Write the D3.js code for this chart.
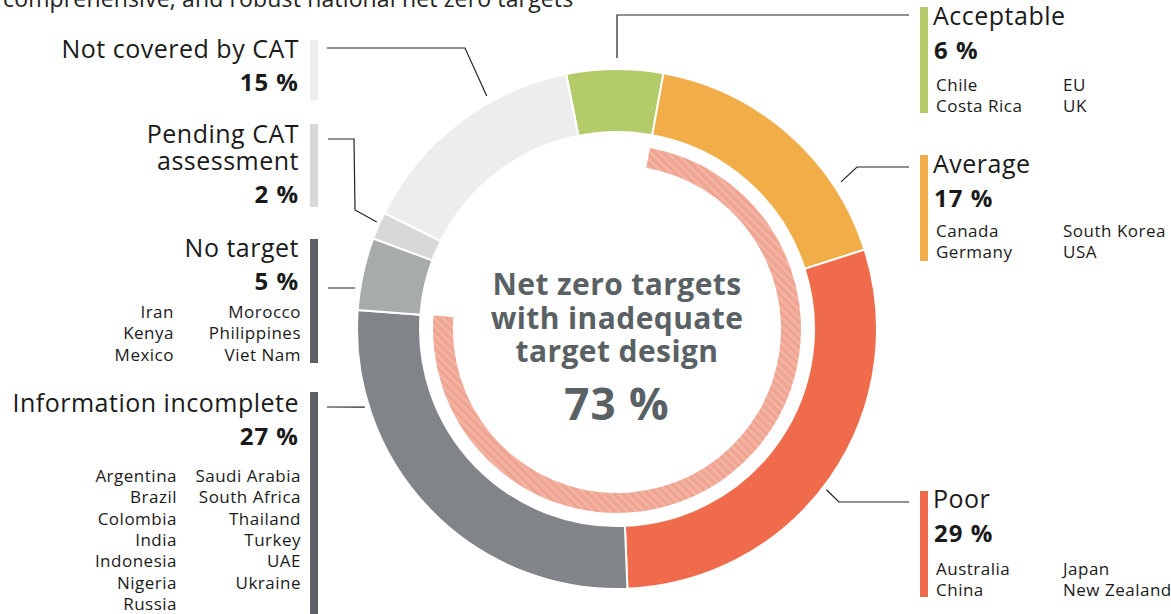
<!DOCTYPE html>
<html>
<head>
<meta charset="utf-8">
<script src="https://cdn.jsdelivr.net/npm/d3@7"></script>
<style>
  body { margin: 0; background: #fff; }
  svg text { font-family: "Open Sans", "Noto Sans", sans-serif; }
</style>
</head>
<body>
<div id="chart"></div>
<script>
// categories in clockwise order starting just left of 12 o'clock
var categories = ["Acceptable", "Average", "Poor", "Information incomplete",
                  "No target", "Pending CAT assessment", "Not covered by CAT"];
var shares = [6.0, 17.2, 29.3, 26.8, 4.5, 1.7, 14.5];   // share of targets, %
var shareLabels = ["6 %", "17 %", "29 %", "27 %", "5 %", "2 %", "15 %"];
var colors = ["#b3cb69", "#f0ad48", "#ef6b4c", "#818589", "#a8abac", "#d6d8d9", "#eceeed"];

// countries listed under each category (two columns)
var acceptableCountries = [["Chile", "Costa Rica"], ["EU", "UK"]];
var averageCountries = [["Canada", "Germany"], ["South Korea", "USA"]];
var poorCountries = [["Australia", "China"], ["Japan", "New Zealand"]];
var incompleteCountries = [["Argentina", "Brazil", "Colombia", "India", "Indonesia", "Nigeria", "Russia"],
                           ["Saudi Arabia", "South Africa", "Thailand", "Turkey", "UAE", "Ukraine"]];
var noTargetCountries = [["Iran", "Kenya", "Mexico"], ["Morocco", "Philippines", "Viet Nam"]];

// the inner ring groups these categories
var inadequateCategories = ["Average", "Poor", "Information incomplete"];
var inadequateTitle = ["Net zero targets", "with inadequate", "target design"];
var inadequateLabel = "73 %";

var subtitle = "comprehensive, and robust national net zero targets";

document.addEventListener("DOMContentLoaded", function() {
    var w = 1171, h = 614;
    var cx = 617, cy = 329;          // donut centre
    var rOuter = 260, rInner = 197;  // main ring
    var rIn2 = 184, rIn1 = 164;      // hatched ring
    var startAngle = -11.3 * Math.PI / 180;

    // text styles (Open Sans is narrower than the original face, so widen a bit)
    var titleSize = 25, titleSpacing = 0.5;
    var pctSize = 24, pctSpacing = 1;
    var countrySize = 17, countrySpacing = 0.5;

    var svg = d3.select("#chart").append("svg")
        .attr("width", w)
        .attr("height", h);

    // stripe pattern for the inner ring
    var defs = svg.append("defs");
    var pat = defs.append("pattern")
        .attr("id", "hatch")
        .attr("width", 6).attr("height", 6)
        .attr("patternUnits", "userSpaceOnUse")
        .attr("patternTransform", "rotate(-45)");
    pat.append("rect").attr("width", 6).attr("height", 6).attr("fill", "#f4b3a2");
    pat.append("rect").attr("width", 3).attr("height", 6).attr("fill", "#eea490");

    // subtitle cut off at the top
    svg.append("text")
        .attr("x", 3).attr("y", 7)
        .attr("font-size", 23)
        .attr("letter-spacing", 0.15)
        .attr("fill", "#222")
        .text(subtitle);

    var data = categories.map(function(c, i) {
        return { name: c, value: shares[i], label: shareLabels[i], color: colors[i] };
    });

    var pie = d3.pie()
        .sort(null)
        .value(d => d.value)
        .startAngle(startAngle)
        .endAngle(startAngle + 2 * Math.PI);

    var arcs = pie(data);

    var arc = d3.arc().innerRadius(rInner).outerRadius(rOuter);

    var g = svg.append("g").attr("transform", `translate(${cx},${cy})`);

    g.selectAll("path.seg")
        .data(arcs)
        .enter().append("path")
        .attr("class", "seg")
        .attr("d", arc)
        .attr("fill", d => d.data.color)
        .attr("stroke", "#fff")
        .attr("stroke-width", 2);

    // hatched inner ring covering the inadequate categories
    var inad = arcs.filter(a => inadequateCategories.indexOf(a.data.name) >= 0);
    var innerArc = d3.arc()
        .innerRadius(rIn1).outerRadius(rIn2)
        .startAngle(d3.min(inad, a => a.startAngle))
        .endAngle(d3.max(inad, a => a.endAngle));
    g.append("path")
        .attr("d", innerArc())
        .attr("fill", "url(#hatch)");

    // centre text
    var centre = g.append("g").attr("fill", "#5a6165").attr("font-weight", "bold").attr("text-anchor", "middle");
    inadequateTitle.forEach(function(t, i) {
        centre.append("text")
            .attr("x", 0).attr("y", -34 + i * 33.5)
            .attr("font-size", 30)
            .attr("letter-spacing", 0.4)
            .text(t);
    });
    centre.append("text")
        .attr("x", 0).attr("y", 91)
        .attr("font-size", 44)
        .attr("letter-spacing", 1)
        .text(inadequateLabel);

    // legend layout (positions only)
    var layout = {
        "Acceptable":            { side: "right", y: 25, bar: [7, 113], countries: acceptableCountries, cy0: 91,
                                   anchor: 0, r: 271, path: [[617, 15], [909, 15]] },
        "Average":               { side: "right", y: 173, bar: [155, 261], countries: averageCountries, cy0: 237,
                                   anchor: 56.7, r: 268, path: [[857, 167], [909, 167]] },
        "Poor":                  { side: "right", y: 508, bar: [491, 597], countries: poorCountries, cy0: 575,
                                   anchor: 127.5, r: 264, path: [[839, 502], [909, 502]] },
        "Information incomplete":{ side: "left", lines: ["Information incomplete"], y: 412, bar: [392, 620],
                                   countries: incompleteCountries, cy0: 482, col1: 177,
                                   anchor: 252.8, r: 264, path: [[327, 407]] },
        "No target":             { side: "left", lines: ["No target"], y: 257, bar: [239, 363],
                                   countries: noTargetCountries, cy0: 318, col1: 174,
                                   anchor: 278.9, r: 265, path: [[328, 288]] },
        "Pending CAT assessment":{ side: "left", lines: ["Pending CAT", "assessment"], y: 143, bar: [124, 207],
                                   anchor: 294, r: 263, path: [[355, 210], [354, 139], [328, 139]] },
        "Not covered by CAT":    { side: "left", lines: ["Not covered by CAT"], y: 58, bar: [40, 100],
                                   anchor: 330.8, r: 267, path: [[465, 48], [327, 48]] }
    };

    var leader = d3.line();

    data.forEach(function(d) {
        var L = layout[d.name];
        var a = L.anchor * Math.PI / 180;
        var start = [cx + L.r * Math.sin(a), cy - L.r * Math.cos(a)];
        svg.append("path")
            .attr("d", leader([start].concat(L.path)))
            .attr("fill", "none")
            .attr("stroke", "#222")
            .attr("stroke-width", 1.2);

        var lg = svg.append("g").attr("fill", "#1a1a1a");
        if (L.side === "right") {
            lg.append("rect").attr("x", 920).attr("y", L.bar[0])
                .attr("width", 8).attr("height", L.bar[1] - L.bar[0]).attr("fill", d.color);
            lg.append("text").attr("x", 933).attr("y", L.y).attr("font-size", titleSize)
                .attr("letter-spacing", titleSpacing).text(d.name);
            lg.append("text").attr("x", 934).attr("y", L.y + 34).attr("font-size", pctSize)
                .attr("letter-spacing", pctSpacing)
                .attr("font-weight", "bold").text(d.label);
            L.countries.forEach(function(col, ci) {
                col.forEach(function(c, ri) {
                    lg.append("text").attr("x", ci === 0 ? 936 : 1063).attr("y", L.cy0 + ri * 21.3)
                        .attr("font-size", countrySize).attr("letter-spacing", countrySpacing).text(c);
                });
            });
        } else {
            lg.append("rect").attr("x", 310).attr("y", L.bar[0])
                .attr("width", 8).attr("height", L.bar[1] - L.bar[0])
                .attr("fill", d.name === "Pending CAT assessment" || d.name === "Not covered by CAT" ? d.color : "#5b6164");
            L.lines.forEach(function(t, i) {
                lg.append("text").attr("x", 299).attr("y", L.y + i * 27)
                    .attr("text-anchor", "end").attr("font-size", titleSize)
                    .attr("letter-spacing", titleSpacing).text(t);
            });
            lg.append("text").attr("x", 299).attr("y", L.y + (L.lines.length - 1) * 27 + 33)
                .attr("text-anchor", "end").attr("font-size", pctSize)
                .attr("letter-spacing", pctSpacing)
                .attr("font-weight", "bold").text(d.label);
            if (L.countries) {
                L.countries.forEach(function(col, ci) {
                    col.forEach(function(c, ri) {
                        lg.append("text").attr("x", ci === 0 ? L.col1 : 301).attr("y", L.cy0 + ri * 21.3)
                            .attr("text-anchor", "end").attr("font-size", countrySize)
                            .attr("letter-spacing", countrySpacing).text(c);
                    });
                });
            }
        }
    });
});
</script>
</body>
</html>
